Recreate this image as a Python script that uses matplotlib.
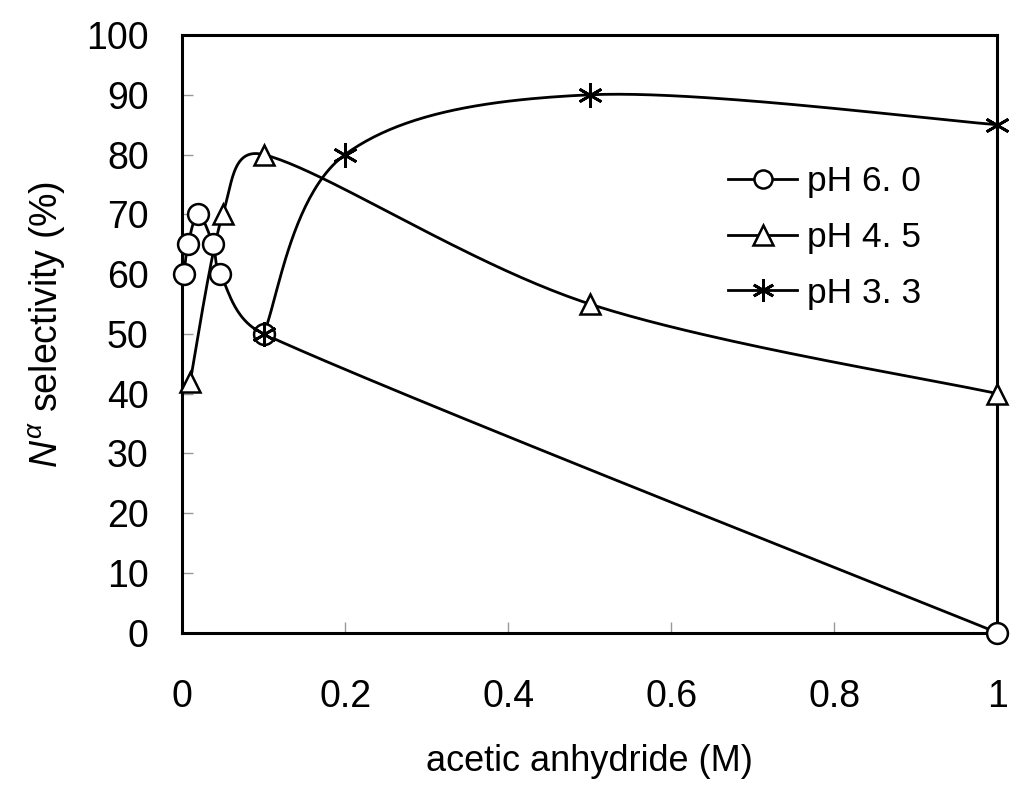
import numpy as np
import matplotlib.pyplot as plt

plt.rcParams['font.family'] = ['Liberation Sans', 'DejaVu Sans']
plt.rcParams['mathtext.fontset'] = 'custom'
plt.rcParams['mathtext.it'] = 'Liberation Sans:italic'
plt.rcParams['mathtext.rm'] = 'Liberation Sans'

# data
x_ph60 = [0.0025, 0.0075, 0.02, 0.038, 0.047, 0.1, 1.0]
y_ph60 = [60, 65, 70, 65, 60, 50, 0]
x_ph45 = [0.01, 0.05, 0.1, 0.5, 1.0]
y_ph45 = [42, 70, 80, 55, 40]
x_ph33 = [0.1, 0.2, 0.5, 1.0]
y_ph33 = [50, 80, 90, 85]
labels = ['pH 6. 0', 'pH 4. 5', 'pH 3. 3']

# axis pixel scale, so the smoothing works in screen space like a spreadsheet
SX, SY = 815.0, 5.97


def smooth(xs, ys, n=50, k=0.45):
    # bezier through the points, tangent from the neighbours,
    # control arm clamped to a share of the segment so short steps don't loop
    p = np.column_stack([np.array(xs) * SX, np.array(ys) * SY])
    out = [p[0]]
    for i in range(len(p) - 1):
        p0 = p[i - 1] if i > 0 else p[i]
        p1, p2 = p[i], p[i + 1]
        p3 = p[i + 2] if i + 2 < len(p) else p[i + 1]
        L = np.hypot(*(p2 - p1))
        d1 = (p2 - p0) / 6.0
        d2 = (p3 - p1) / 6.0
        n1, n2 = np.hypot(*d1), np.hypot(*d2)
        if n1 > k * L:
            d1 = d1 * k * L / n1
        if n2 > k * L:
            d2 = d2 * k * L / n2
        c1 = p1 + d1
        c2 = p2 - d2
        t = np.linspace(0, 1, n)[1:, None]
        seg = ((1 - t) ** 3) * p1 + 3 * ((1 - t) ** 2) * t * c1 \
            + 3 * (1 - t) * t ** 2 * c2 + t ** 3 * p2
        out.extend(seg)
    out = np.array(out)
    return out[:, 0] / SX, out[:, 1] / SY


fig = plt.figure(figsize=(10.24, 7.87), dpi=100)
ax = fig.add_axes([0.1777, 0.196, 0.7964, 0.7595])

star = (6, 2, 0)
series = [(x_ph60, y_ph60, 'o', 15, 13), (x_ph45, y_ph45, '^', 15, 14),
          (x_ph33, y_ph33, star, 18, 16)]
for (xs, ys, m, ms, lms), lab in zip(series, labels):
    sx, sy = smooth(xs, ys)
    ax.plot(sx, sy, color='black', lw=2, zorder=3, clip_on=False)
    ax.plot(xs, ys, ls='none', marker=m, ms=ms, mfc='white', mec='black',
            mew=2.0 if m == star else 1.8, zorder=4, clip_on=False)
    ax.plot([], [], color='black', lw=2, marker=m, ms=lms, mfc='white',
            mec='black', mew=2.0 if m == star else 1.8, label=lab)

ax.set_xlim(0, 1)
ax.set_ylim(0, 100)
ax.set_xticks([0, 0.2, 0.4, 0.6, 0.8, 1.0])
ax.set_xticklabels(['0', '0.2', '0.4', '0.6', '0.8', '1'])
ax.set_yticks(range(0, 101, 10))
ax.tick_params(direction='in', length=8, width=1, color='#999999',
               labelsize=27, top=False, right=False)
ax.tick_params(axis='x', pad=33)
ax.tick_params(axis='y', pad=24)
for s in ax.spines.values():
    s.set_linewidth(2.2)
    s.set_color('black')

ax.set_xlabel('acetic anhydride (M)', fontsize=26, labelpad=21)
ax.set_ylabel(r'$N^{\alpha}$ selectivity (%)', fontsize=27)
ax.yaxis.set_label_coords(-0.14, 0.515)

leg = ax.legend(loc='upper left', bbox_to_anchor=(0.67, 0.782), frameon=False,
                fontsize=25.5, handlelength=1.95, handletextpad=0.28,
                labelspacing=0.64, borderpad=0, borderaxespad=0)

fig.savefig('out.png', dpi=100)
